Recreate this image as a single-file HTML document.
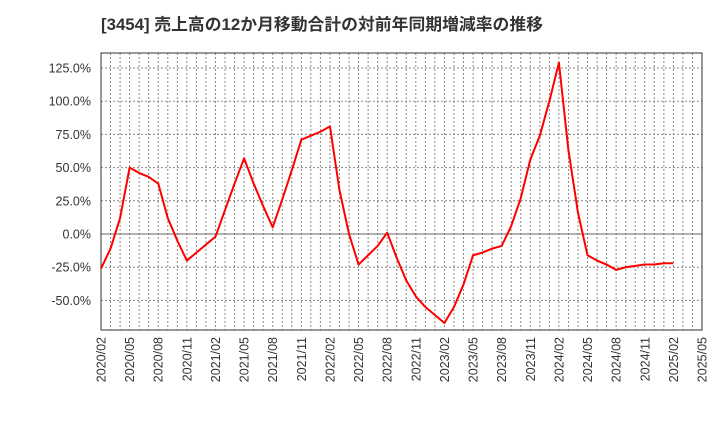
<!DOCTYPE html>
<html><head><meta charset="utf-8"><style>
body{margin:0;background:#fff;}
svg text{font-family:"Liberation Sans","Noto Sans CJK JP",sans-serif;}
</style></head><body>
<svg id="c" width="720" height="440" xmlns="http://www.w3.org/2000/svg">
<text x="101" y="30" font-size="16.5" font-weight="bold" fill="#333" textLength="442" lengthAdjust="spacingAndGlyphs">[3454]  売上高の12か月移動合計の対前年同期増減率の推移</text>
<g id="grid"></g><g id="axes"></g><g id="series"></g>
</svg>
<script>
const values=[-26,-11,12,50,46,43,38,12,-5,-20,-14,-8,-2,18,38,57,38,21,5,26,48,71,74,77,81,33,0,-23,-16,-9,1,-18,-35,-47,-55,-61,-67,-55,-38,-16,-14,-11,-9,6,27,56,74,100,129,63,16,-16,-20,-23,-27,-25,-24,-23,-23,-22,-22];
const yTicks=[-50,-25,0,25,50,75,100,125];
const xTickLabels=["2020/02","2020/05","2020/08","2020/11","2021/02","2021/05","2021/08","2021/11","2022/02","2022/05","2022/08","2022/11","2023/02","2023/05","2023/08","2023/11","2024/02","2024/05","2024/08","2024/11","2025/02","2025/05"];
const L=101,R=702,T=53,B=330,N=63;
const x=i=>L+(R-L)*i/N;
const y=v=>234-v*1.328;
const ns="http://www.w3.org/2000/svg";
function mk(tag,attrs,parent,name){const e=document.createElementNS(ns,tag);for(const k in attrs)e.setAttribute(k,attrs[k]);


document.getElementById(parent).appendChild(e);return e;}
for(let i=1;i<N;i++)mk('line',{x1:x(i),x2:x(i),y1:T,y2:B,stroke:'#888','stroke-dasharray':'2,2','stroke-width':1},'grid','v-grid-line');
yTicks.forEach(v=>{mk('line',{x1:L,x2:R,y1:y(v),y2:y(v),stroke:v===0?'#666':'#888','stroke-dasharray':v===0?'':'2,2','stroke-width':1},'grid','h-grid-line');
const t=mk('text',{x:L-10,y:y(v)+4.5,'font-size':12.5,'text-anchor':'end',fill:'#333'},'axes','y-tick-label');t.textContent=v.toFixed(1)+'%';});
xTickLabels.forEach((s,k)=>{const xx=x(k*3);const t=mk('text',{x:xx+4.5,y:B+7,'font-size':12.5,'text-anchor':'end',fill:'#333',transform:`rotate(-90 ${xx+4.5} ${B+7})`},'axes','x-tick-label');t.textContent=s;});
mk('rect',{x:L,y:T,width:R-L,height:B-T,fill:'none',stroke:'#333','stroke-width':1},'axes','plot-frame');
mk('polyline',{points:values.map((v,i)=>x(i)+','+y(v)).join(' '),fill:'none',stroke:'#f00','stroke-width':2,'stroke-linejoin':'round'},'series','growth-rate-line');
</script>
</body></html>
